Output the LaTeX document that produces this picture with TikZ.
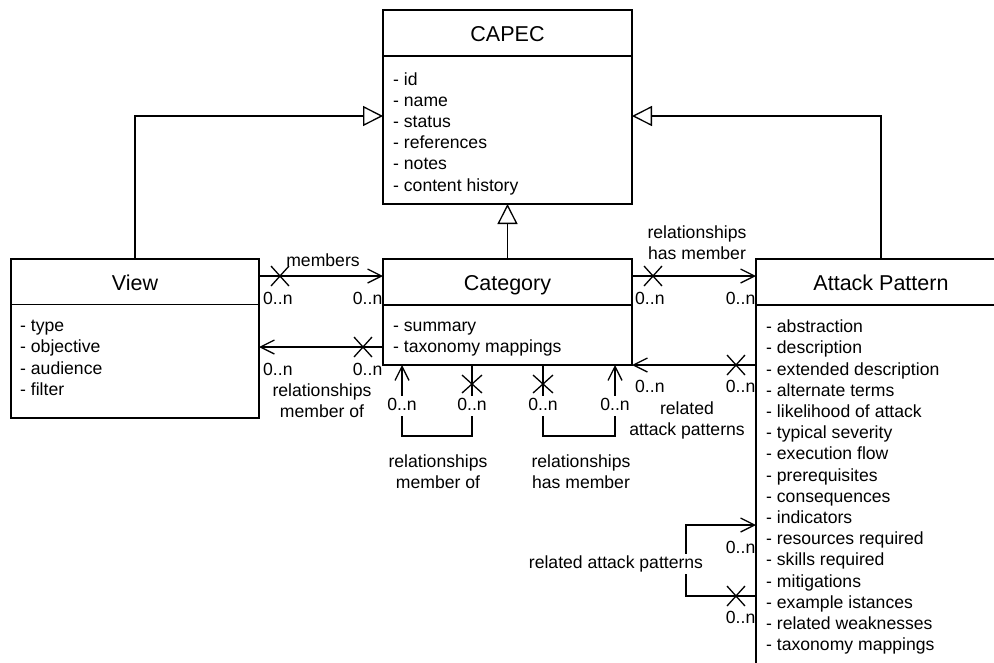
\documentclass[tikz,border=0pt]{standalone}
\usepackage{fontspec}
\setmainfont{Liberation Sans}
\usetikzlibrary{arrows.meta,decorations.markings}

% one attribute per line, first baseline is the box baseline
\newcommand\attr[1]{\hbox{#1}}
\newcommand\attrlist[1]{\vtop{\baselineskip=21.2pt\lineskiplimit=-20pt #1}}
% two centred lines, first baseline is the box baseline
\newcommand\twoline[2]{\vtop{\baselineskip=21.1pt\lineskiplimit=-20pt\halign{\hfil##\hfil\cr#1\cr#2\cr}}}

\tikzset{
  classbox/.style={draw, line width=1.3pt, rectangle, inner sep=0pt, outer sep=0pt, anchor=north west},
  classtitle/.style={font=\fontsize{21.5}{26}\selectfont, inner sep=0pt, anchor=base},
  attrs/.style={font=\fontsize{17.6}{21.2}\selectfont, inner sep=0pt, anchor=base west},
  lbl/.style={font=\fontsize{17.6}{21.2}\selectfont, inner sep=0pt},
  cutlbl/.style={lbl, fill=white, inner xsep=1pt, inner ysep=0pt, text height=14.5pt, text depth=5pt},
  gen/.style={draw, line width=1.3pt, -{Triangle[open,length=20pt,width=20pt]}},
  assoc/.style={draw, line width=1.3pt, -{Straight Barb[length=14pt,width=14pt]}},
  crossed/.style={postaction={decorate,decoration={markings,
      mark=at position #1 with {\draw[line width=1.3pt,-] (-9pt,-10pt)--(9pt,10pt) (-9pt,10pt)--(9pt,-10pt);}}}},
  crossed/.default=20pt
}

\begin{document}
\begin{tikzpicture}[x=1pt,y=-1pt]
\useasboundingbox (0,0) rectangle (994,662);
\fill[white] (0,0) rectangle (994,662);
\clip (0,0) rectangle (994,662);

% class boxes
\node[classbox, minimum width=249pt, minimum height=194pt] (capec) at (383,10) {};
\node[classbox, minimum width=248pt, minimum height=159pt] (view) at (11,259) {};
\node[classbox, minimum width=249pt, minimum height=106pt] (cat) at (383,259) {};
\node[classbox, minimum width=250pt, minimum height=500pt] (ap) at (756,259) {};

% header separators
\draw[line width=1.3pt] ([yshift=-46pt]capec.north west) -- ([yshift=-46pt]capec.north east);
\draw[line width=1.3pt] ([yshift=-45.5pt]view.north west) -- ([yshift=-45.5pt]view.north east);
\draw[line width=1.3pt] ([yshift=-46pt]cat.north west) -- ([yshift=-46pt]cat.north east);
\draw[line width=1.3pt] ([yshift=-46pt]ap.north west) -- ([yshift=-46pt]ap.north east);

% titles
\node[classtitle] (capecT) at (507.5,41.7) {CAPEC};
\node[classtitle] (viewT) at (135,290.5) {View};
\node[classtitle] (catT) at (507.5,290.5) {Category};
\node[classtitle] (apT) at (881,290.5) {Attack Pattern};

% attributes
\node[attrs] (capecA) at (393,85) {\attrlist{\attr{- id}\attr{- name}\attr{- status}\attr{- references}\attr{- notes}\attr{- content history}}};
\node[attrs] (viewA) at (20,331.7) {\attrlist{\attr{- type}\attr{- objective}\attr{- audience}\attr{- filter}}};
\node[attrs] (catA) at (393,331.7) {\attrlist{\attr{- summary}\attr{- taxonomy mappings}}};
\node[attrs] (apA) at (766,332.7) {\attrlist{\attr{- abstraction}\attr{- description}\attr{- extended description}\attr{- alternate terms}\attr{- likelihood of attack}\attr{- typical severity}\attr{- execution flow}\attr{- prerequisites}\attr{- consequences}\attr{- indicators}\attr{- resources required}\attr{- skills required}\attr{- mitigations}\attr{- example istances}\attr{- related weaknesses}\attr{- taxonomy mappings}}};

% generalisations
\draw[gen] (view.north) |- ([yshift=-9pt]capec.west);
\draw[gen] (ap.north) |- ([yshift=-9pt]capec.east);
\draw[gen] (cat.north) -- (capec.south);

% associations View <-> Category
\draw[assoc, crossed=21pt] ([yshift=-17pt]view.north east) -- ([yshift=-17pt]cat.north west);
\draw[assoc, crossed=20pt] ([yshift=-88pt]cat.north west) -- ([yshift=-88pt]view.north east);

% associations Category <-> Attack Pattern
\draw[assoc, crossed=21pt] ([yshift=-17pt]cat.north east) -- ([yshift=-17pt]ap.north west);
\draw[assoc, crossed=20pt] ([yshift=-106pt]ap.north west) -- (cat.south east);

% Category self associations
\draw[assoc, crossed=19pt] ([xshift=89pt]cat.south west) -- ++(0,71) -| ([xshift=19pt]cat.south west);
\draw[assoc, crossed=19pt] ([xshift=160pt]cat.south west) -- ++(0,71) -| ([xshift=232pt]cat.south west);

% Attack Pattern self association
\draw[assoc, crossed=20pt] ([yshift=-337pt]ap.north west) -- ++(-70,0) |- ([yshift=-266pt]ap.north west);

% labels View <-> Category
\node[lbl, anchor=base] (lMembers) at (323,266.7) {members};
\node[lbl, anchor=base west] (m1) at (263,304.3) {0..n};
\node[lbl, anchor=base east] (m2) at (382.5,304.3) {0..n};
\node[lbl, anchor=base west] (m3) at (263,375) {0..n};
\node[lbl, anchor=base east] (m4) at (382.5,375) {0..n};
\node[lbl, anchor=base] (lMemberOf) at (322,396.5) {\twoline{relationships}{member of}};

% labels Category <-> Attack Pattern
\node[lbl, anchor=base] (lHasMember) at (697,238) {\twoline{relationships}{has member}};
\node[lbl, anchor=base west] (m5) at (635,304.3) {0..n};
\node[lbl, anchor=base east] (m6) at (755.5,304.3) {0..n};
\node[lbl, anchor=base west] (m7) at (635,392.3) {0..n};
\node[lbl, anchor=base east] (m8) at (755.5,392.3) {0..n};
\node[lbl, anchor=base] (lRelated) at (687,414.5) {\twoline{related}{attack patterns}};

% labels Category self associations
\node[cutlbl, anchor=base] (m9) at (402,410.7) {0..n};
\node[cutlbl, anchor=base] (m10) at (472,410.7) {0..n};
\node[cutlbl, anchor=base] (m11) at (543,410.7) {0..n};
\node[cutlbl, anchor=base] (m12) at (615,410.7) {0..n};
\node[lbl, anchor=base] (lSelfOf) at (438,467.5) {\twoline{relationships}{member of}};
\node[lbl, anchor=base] (lSelfHas) at (581,467.5) {\twoline{relationships}{has member}};

% labels Attack Pattern self association
\node[lbl, anchor=base east] (m13) at (755.5,553.3) {0..n};
\node[lbl, anchor=base east] (m14) at (755.5,623.3) {0..n};
\node[cutlbl, anchor=base] (lSelfAP) at (616,568.7) {related attack patterns};
\end{tikzpicture}
\end{document}
